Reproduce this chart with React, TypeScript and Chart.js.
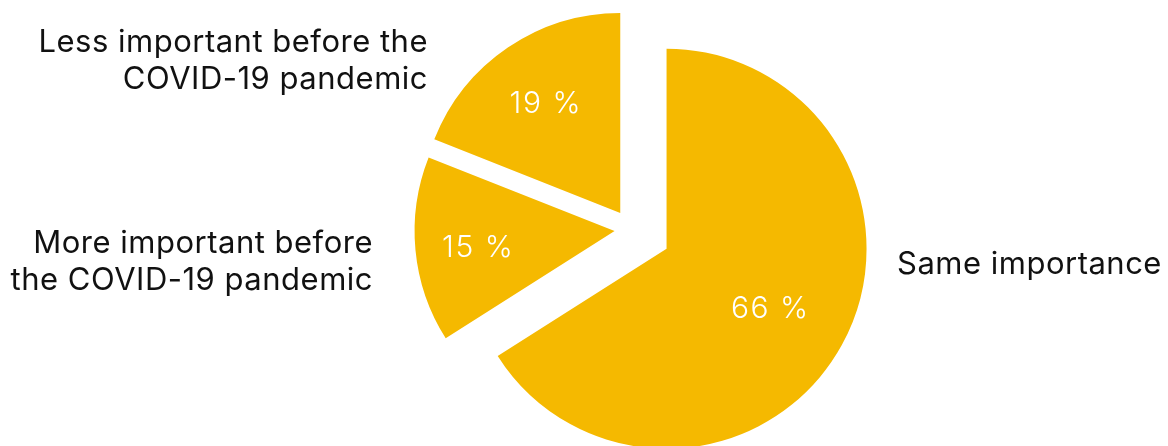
import React, { useEffect, useRef } from "react";
import { Chart, PieController, ArcElement } from "chart.js";

Chart.register(PieController, ArcElement);

// ---- data ----
const categories = [
  "Same importance",
  "More important before the COVID-19 pandemic",
  "Less important before the COVID-19 pandemic",
];
const shares = [66, 15, 19];
const categoryLines = [
  ["Same importance"],
  ["More important before", "the COVID-19 pandemic"],
  ["Less important before the", "COVID-19 pandemic"],
];

// ---- style ----
const YELLOW = "#F5B900";
const EXPLODE = [40, 17, 20];
const RADIUS = 200;
const FONT = "Inter, 'Noto Sans', sans-serif";
const W = 1168;
const H = 446;

// category label anchors (text layout): x, first baseline, align
const LABEL_LAYOUT = [
  { x: 897, y: 274, align: "left" as CanvasTextAlign },
  { x: 373, y: 253, align: "right" as CanvasTextAlign },
  { x: 428, y: 52, align: "right" as CanvasTextAlign },
];
const LINE_H = 37;

const explodePlugin = {
  id: "explodeSlices",
  beforeDatasetDraw(chart: any, args: any) {
    const ctx = chart.ctx;
    args.meta.data.forEach((arc: any, i: number) => {
      const mid = (arc.startAngle + arc.endAngle) / 2;
      const d = EXPLODE[i] || 0;
      ctx.save();
      ctx.translate(Math.cos(mid) * d, Math.sin(mid) * d);
      arc.draw(ctx);
      ctx.restore();
    });
    return false;
  },
  afterDatasetsDraw(chart: any) {
    const ctx = chart.ctx;
    const meta = chart.getDatasetMeta(0);
    ctx.save();
    meta.data.forEach((arc: any, i: number) => {
      const mid = (arc.startAngle + arc.endAngle) / 2;
      const r = arc.outerRadius * 0.78;
      const x = arc.x + Math.cos(mid) * r;
      const y = arc.y + Math.sin(mid) * r;
      ctx.fillStyle = "#ffffff";
      ctx.font = `300 30px ${FONT}`;
      (ctx as any).letterSpacing = "1.5px";
      ctx.textAlign = "center";
      ctx.textBaseline = "alphabetic";
      ctx.fillText(`${shares[i]} %`, x + 2, y + 13);
    });
    categoryLines.forEach((lines, i) => {
      const l = LABEL_LAYOUT[i];
      ctx.fillStyle = "#111111";
      ctx.font = `400 31px ${FONT}`;
      (ctx as any).letterSpacing = "0.5px";
      ctx.textAlign = l.align;
      ctx.textBaseline = "alphabetic";
      lines.forEach((t, k) => ctx.fillText(t, l.x, l.y + k * LINE_H));
    });
    ctx.restore();
  },
};

export default function App() {
  const ref = useRef<HTMLCanvasElement>(null);
  useEffect(() => {
    if (!ref.current) return;
    const chart = new Chart(ref.current, {
      type: "pie",
      data: {
        labels: categories,
        datasets: [
          {
            data: shares,
            backgroundColor: YELLOW,
            borderWidth: 0,
            radius: RADIUS,
          } as any,
        ],
      },
      options: {
        animation: false,
        responsive: false,
        devicePixelRatio: 1,
        layout: { padding: { left: 95, right: 0, top: 13, bottom: 0 } },
        plugins: { legend: { display: false }, tooltip: { enabled: false } },
      } as any,
      plugins: [explodePlugin],
    });
    return () => chart.destroy();
  }, []);
  return (
    <div style={{ position: "absolute", left: 0, top: 0, width: W, height: H, background: "#fff" }}>
      <canvas ref={ref} width={W} height={H} style={{ width: W, height: H, display: "block" }} />
    </div>
  );
}
